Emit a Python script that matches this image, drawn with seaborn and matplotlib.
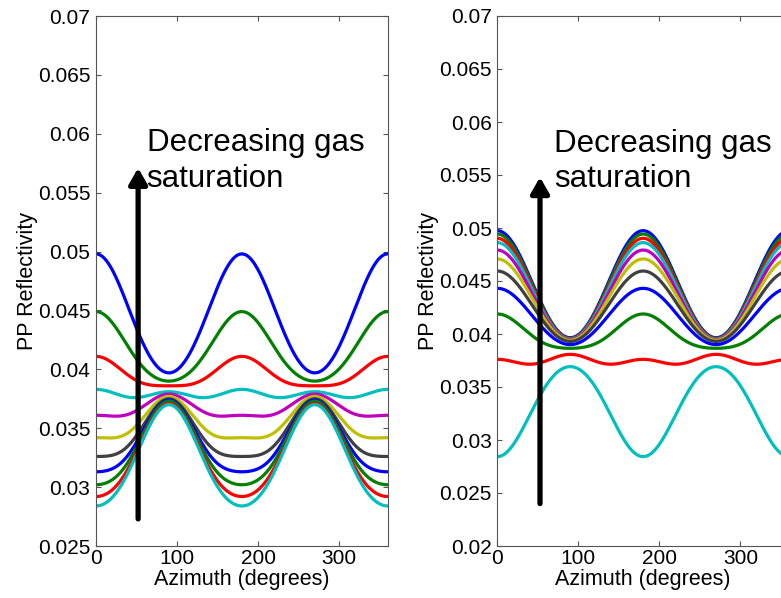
import numpy as np
import pandas as pd
import matplotlib
matplotlib.use("Agg")
import matplotlib.pyplot as plt
import seaborn as sns

# ---------------- data ----------------
colors = ["#0000ff", "#008000", "#ff0000", "#00bfbf", "#bf00bf", "#bfbf00",
          "#404040", "#0000ff", "#008000", "#ff0000", "#00bfbf"]

# left panel: reflectivity at azimuth 0, 45 and 90 degrees for each curve
left_r0 = [0.0498, 0.0449, 0.0411, 0.0383, 0.0361, 0.0342, 0.0326, 0.0313, 0.0302, 0.0292, 0.0284]
left_r45 = [0.04435, 0.04136, 0.03925, 0.0376, 0.03632, 0.0349, 0.03392, 0.03325, 0.03276, 0.03228, 0.03201]
left_r90 = [0.0397, 0.0390, 0.0386, 0.0381, 0.0379, 0.0377, 0.0375, 0.0374, 0.0373, 0.0371, 0.0370]

# right panel
right_r0 = [0.04975, 0.04943, 0.04903, 0.04862, 0.04792, 0.04708, 0.04594, 0.04431, 0.04189, 0.03761, 0.02843]
right_r45 = [0.04450, 0.04432, 0.04410, 0.04388, 0.04352, 0.04309, 0.04249, 0.04155, 0.03972, 0.03717, 0.03310]
right_r90 = [0.03965, 0.0396, 0.03955, 0.0395, 0.03945, 0.0394, 0.0393, 0.0390, 0.03865, 0.03808, 0.03692]

xticks = [0, 100, 200, 300]
left_yticks = [0.025, 0.03, 0.035, 0.04, 0.045, 0.05, 0.055, 0.06, 0.065, 0.07]
left_yticklabels = ["0.025", "0.03", "0.035", "0.04", "0.045", "0.05", "0.055", "0.06", "0.065", "0.07"]
right_yticks = [0.02, 0.025, 0.03, 0.035, 0.04, 0.045, 0.05, 0.055, 0.06, 0.065, 0.07]
right_yticklabels = ["0.02", "0.025", "0.03", "0.035", "0.04", "0.045", "0.05", "0.055", "0.06", "0.065", "0.07"]

annot_text1 = "Decreasing gas"
annot_text2 = "saturation"
xlabel = "Azimuth (degrees)"
ylabel = "PP Reflectivity"

# ---------------- build curves (azimuthal anisotropy form a + b cos^2 + c cos^4) ----------------
az = np.arange(0, 361, 1.0)


def build(r0, r45, r90):
    rows = []
    u = np.cos(np.radians(az)) ** 2
    for i, (v0, v45, v90) in enumerate(zip(r0, r45, r90)):
        P = v0 - v90
        Q = v45 - v90
        c = 2 * P - 4 * Q
        b = P - c
        vals = v90 + b * u + c * u ** 2
        rows.append(pd.DataFrame({"azimuth": az, "R": vals, "curve": i}))
    return pd.concat(rows, ignore_index=True)


df_left = build(left_r0, left_r45, left_r90)
df_right = build(right_r0, right_r45, right_r90)

# ---------------- style ----------------
sns.set_theme(style="white")
plt.rcParams["font.family"] = ["Liberation Sans", "DejaVu Sans"]
plt.rcParams["text.color"] = "black"
plt.rcParams["axes.labelcolor"] = "black"
plt.rcParams["xtick.color"] = "black"
plt.rcParams["ytick.color"] = "black"
spine_col = "#555555"

W, H = 781, 598
fig = plt.figure(figsize=(W / 100, H / 100), dpi=100)
ax1 = fig.add_axes([96 / W, 52 / H, 291.7 / W, 530 / H])
ax2 = fig.add_axes([497.3 / W, 52 / H, 291.7 / W, 530 / H])

for ax, df, ylim, yt, ytl in [(ax1, df_left, (0.025, 0.07), left_yticks, left_yticklabels),
                              (ax2, df_right, (0.02, 0.07), right_yticks, right_yticklabels)]:
    sns.lineplot(data=df, x="azimuth", y="R", hue="curve", palette=colors,
                 estimator=None, sort=False, legend=False, linewidth=2.3, ax=ax)
    ax.set_xlim(0, 360)
    ax.set_ylim(*ylim)
    ax.set_xticks(xticks)
    ax.set_xticklabels([str(t) for t in xticks])
    ax.set_yticks(yt)
    ax.set_yticklabels(ytl)
    ax.tick_params(direction="in", length=3.6, width=0.8, color=spine_col,
                   top=True, right=True, bottom=True, left=True,
                   labelsize=15, labelcolor="black")
    ax.tick_params(axis="x", pad=2)
    ax.tick_params(axis="y", pad=4)
    for s in ax.spines.values():
        s.set_color(spine_col)
        s.set_linewidth(0.8)
        s.set_visible(True)
    ax.set_xlabel(xlabel, fontsize=15.5, color="black")
    ax.set_ylabel(ylabel, fontsize=15.5, color="black")
    ax.xaxis.set_label_coords(0.5, -0.043)
    ax.yaxis.set_label_coords(-0.2, 0.5)
    ax.set_facecolor("white")

# arrows
arrow_kw = dict(arrowstyle="-|>,head_length=0.35,head_width=0.2", color="black",
                lw=3.8, mutation_scale=27, shrinkA=0, shrinkB=0)
ax1.annotate("", xy=(52, 0.0571), xytext=(52, 0.0273), arrowprops=arrow_kw)
ax2.annotate("", xy=(52.7, 0.0548), xytext=(52.7, 0.0240), arrowprops=arrow_kw)

# annotation text
for ax, x, y1, y2 in [(ax1, 62.5, 0.05854, 0.05546), (ax2, 70.4, 0.0572, 0.05384)]:
    ax.text(x, y1, annot_text1, fontsize=22.5, ha="left", va="baseline", color="black")
    ax.text(x, y2, annot_text2, fontsize=22.5, ha="left", va="baseline", color="black")

fig.savefig("out.png", dpi=100, facecolor="white")
